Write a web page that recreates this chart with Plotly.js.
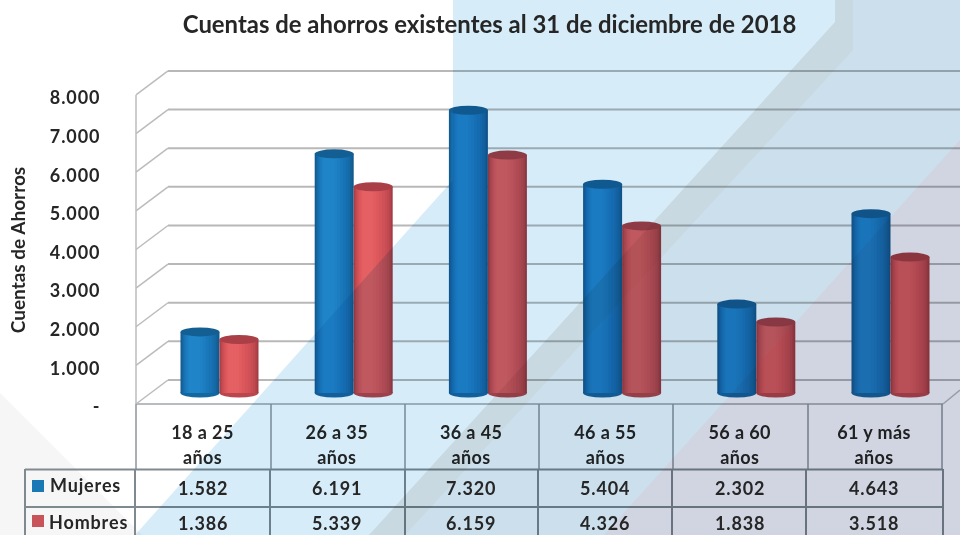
<!DOCTYPE html>
<html><head><meta charset="utf-8">
<script src="https://cdn.plot.ly/plotly-3.0.1.min.js"></script>
<style>html,body{margin:0;padding:0;background:#fff;overflow:hidden}#c{width:960px;height:535px}
.ytick text{letter-spacing:.9px}
.xtick text{letter-spacing:.4px}
.annotation-text{letter-spacing:.85px}
</style>
</head><body><div id="c"></div>
<script>
// ---- data ----
var categories = ['18 a 25','26 a 35','36 a 45','46 a 55','56 a 60','61 y más'];
var categorySuffix = 'años';
var mujeres = [1582,6191,7320,5404,2302,4643];
var hombres = [1386,5339,6159,4326,1838,3518];
var yTicks = [0,1000,2000,3000,4000,5000,6000,7000,8000];
var titleText = 'Cuentas de ahorros existentes al 31 de diciembre de 2018';
var yTitleText = 'Cuentas de Ahorros';

// ---- layout geometry ----
var W=960,H=535, L=136,R=943,T=93,B=407;
var unit=0.03863;          // px per account
var FONT='Lato, Carlito, sans-serif', INK='#262626';
function fmt(v){var s=String(v);return s.length>3?s.slice(0,-3)+'.'+s.slice(-3):s;}
function px(x){return (x-L)/(R-L);}
function py(y){return (B-y)/(B-T);}
function poly(pts,fill,layer){
  return {type:'path',xref:'paper',yref:'paper',layer:layer,fillcolor:fill,line:{width:0},
    path:'M'+pts.map(function(p){return px(p[0])+','+py(p[1]);}).join('L')+'Z'};
}
function seg(x0,y0,x1,y1,color,w,layer){
  return {type:'line',xref:'paper',yref:'paper',x0:px(x0),y0:py(y0),x1:px(x1),y1:py(y1),
    layer:layer||'below',line:{color:color,width:w}};
}

// ---- bars: nested bars of narrowing width give the cylinder shading ----
var xIdx=categories.map(function(_,i){return i;});
var barW=0.2906;
var blueShades=[['#125a8e',1,0],['#14629a',0.93,0.025],['#1669a5',0.86,0.05],['#176eae',0.78,0.075],['#1873b4',0.70,0.10],['#1a78ba',0.60,0.125],['#1c7dc0',0.50,0.15],['#1e81c4',0.39,0.185],['#2085c8',0.28,0.22]];
var redShades =[['#a53c44',1,0],['#b5444b',0.93,0.025],['#c04a50',0.86,0.05],['#c94e53',0.78,0.075],['#d05157',0.70,0.10],['#d7555a',0.60,0.125],['#dd585c',0.50,0.15],['#e15c5f',0.39,0.185],['#e46062',0.28,0.22]];
var traces=[];
function addSeries(name,vals,shades,start){
  shades.forEach(function(s,k){
    traces.push({type:'bar',name:name,x:xIdx,y:vals,xaxis:'x2',yaxis:'y2',showlegend:false,hoverinfo:'y+name',
      width:barW*s[1],offset:start+barW*s[2],marker:{color:s[0],line:{width:0}},cliponaxis:false});
  });
}
addSeries('Mujeres',mujeres,blueShades,-barW);
addSeries('Hombres',hombres,redShades,0);
// anchor trace so the primary axes exist with tick labels
traces.push({type:'scatter',mode:'markers',x:xIdx,y:mujeres,xaxis:'x',yaxis:'y',marker:{opacity:0,size:1},showlegend:false,hoverinfo:'skip'});

// ---- shapes ----
var shapes=[];
shapes.push(poly([[0,393],[142,535],[0,535]],'#f6f6f6','below'));
// back wall and side wall grid
yTicks.forEach(function(t){
  var back=380-t*unit, front=404-t*unit;
  shapes.push(seg(168,back,W,back,'#b8b8b8',2));
  shapes.push(seg(136,front,168,back,'#bcbcbc',1.5));
});
shapes.push(seg(136,95,136,404,'#bcbcbc',1.5));
shapes.push(seg(136,404,943,404,'#b8bcc0',2));
shapes.push(seg(943,404,960,390,'#b8bcc0',1.5));
// cylinder bases & tops
function caps(vals,off,baseCol,topCol){
  vals.forEach(function(v,i){
    var e={type:'circle',xref:'x2',yref:'y2',xsizemode:'pixel',ysizemode:'pixel',x0:-19.5,x1:19.5,y0:-4.5,y1:4.5,line:{width:0}};
    shapes.push(Object.assign({},e,{xanchor:i+off,yanchor:0,fillcolor:baseCol,layer:'below'}));
    shapes.push(Object.assign({},e,{xanchor:i+off,yanchor:v,fillcolor:topCol,layer:'above'}));
  });
}
caps(mujeres,-barW/2,'#15679f','#135f94');
caps(hombres,barW/2,'#bb474e','#ab3f47');
// table grid
var lineCol='#7f8a90';
[136,271,405,539,673,808,942].forEach(function(x){shapes.push(seg(x,404,x,469,'#8d969b',1.5,'above'));});
[25,135,270,405,538,672,806,943].forEach(function(x){shapes.push(seg(x,469,x,535,lineCol,2,'above'));});
[469.5,507].forEach(function(y){shapes.push(seg(25,y,943,y,lineCol,2,'above'));});
// legend keys
shapes.push(poly([[32,480],[44,480],[44,492],[32,492]],'#1a78b4','above'));
shapes.push(poly([[32,515],[44,515],[44,527],[32,527]],'#c8545a','above'));
// watermark over everything (multiplied onto the chart below)
var wmStart=shapes.length;
shapes.push(poly([[453,0],[960,0],[960,535],[135,535],[453,180]],'#d6ecf8','above'));
shapes.push(poly([[853,0],[960,0],[960,140],[604,535],[405,535],[853,50]],'#f2f1f3','above'));
shapes.push(poly([[835,0],[853,0],[853,50],[405,535],[369,535],[835,22]],'#efebe9','above'));
shapes.push(poly([[960,140],[960,535],[604,535]],'#f8e6e8','above'));

// ---- table text ----
var ann=[];
function cell(xv,y,text,xref,anchor){
  ann.push({xref:xref||'x',yref:'paper',x:xv,y:py(y),text:text,showarrow:false,xanchor:anchor||'center',yanchor:'middle',
    font:{family:FONT,size:18,color:INK,weight:700}});
}
mujeres.forEach(function(v,i){cell(i,488,fmt(v));});
hombres.forEach(function(v,i){cell(i,523,fmt(v));});
cell(px(48),485,'Mujeres','paper','left');
cell(px(47),522,'Hombres','paper','left');

var layout={
  width:W,height:H,margin:{l:L,r:W-R,t:T,b:H-B,pad:0,autoexpand:false},
  paper_bgcolor:'#ffffff',plot_bgcolor:'rgba(0,0,0,0)',showlegend:false,barmode:'overlay',
  title:{text:titleText,x:489.5/W,xanchor:'center',xref:'container',y:1-25/H,yref:'container',yanchor:'middle',
    font:{family:FONT,size:23.9,color:INK,weight:700}},
  xaxis:{type:'linear',range:[(L-202.5)/134.3,(R-202.5)/134.3],tickmode:'array',tickvals:xIdx,
    ticktext:categories.map(function(c){return '<span style="font-size:18px">'+c+'</span><br><span style="font-size:18px">'+categorySuffix+'</span>';}),
    showgrid:false,zeroline:false,showline:false,ticks:'outside',ticklen:8,tickcolor:'rgba(0,0,0,0)',
    tickfont:{family:FONT,size:19,color:INK,weight:700},fixedrange:true},
  yaxis:{range:[0,(B-T)/unit],tickmode:'array',tickvals:yTicks,
    ticktext:yTicks.map(function(t){return t===0?'-':fmt(t);}),
    showgrid:false,zeroline:false,showline:false,ticks:'outside',ticklen:31,tickcolor:'rgba(0,0,0,0)',
    tickfont:{family:FONT,size:18,color:INK,weight:700},fixedrange:true,
    title:{text:yTitleText,font:{family:FONT,size:19,color:INK,weight:700},standoff:19}},
  xaxis2:{overlaying:'x',visible:false,range:[(L-219.5)/134.2,(R-219.5)/134.2],fixedrange:true},
  yaxis2:{overlaying:'y',visible:false,range:[(393-B)/unit,(393-T)/unit],fixedrange:true},
  shapes:shapes,annotations:ann
};
Plotly.newPlot('c',traces,layout,{displayModeBar:false,staticPlot:true}).then(function(){
  document.querySelectorAll('.shapelayer path').forEach(function(p){
    if(+p.getAttribute('data-index')>=wmStart) p.style.mixBlendMode='multiply';
  });
});
</script></body></html>
